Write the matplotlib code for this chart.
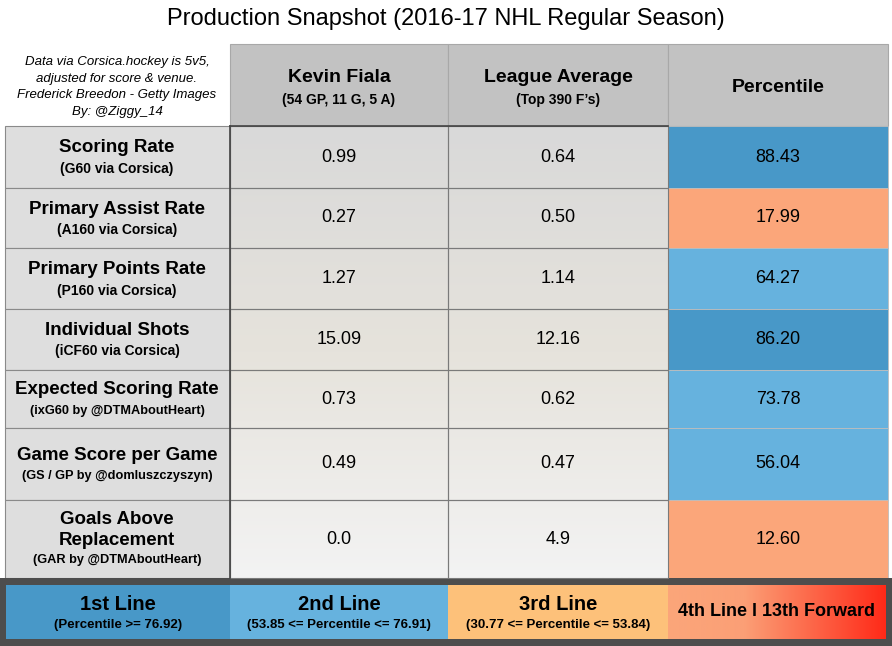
import numpy as np
import matplotlib.pyplot as plt
from matplotlib.colors import LinearSegmentedColormap
from matplotlib.patches import Rectangle

# ---- data ----
metrics = ['Scoring Rate', 'Primary Assist Rate', 'Primary Points Rate',
           'Individual Shots', 'Expected Scoring Rate', 'Game Score per Game',
           'Goals Above\nReplacement']
sources = ['(G60 via Corsica)', '(A160 via Corsica)', '(P160 via Corsica)',
           '(iCF60 via Corsica)', '(ixG60 by @DTMAboutHeart)',
           '(GS / GP by @domluszczyszyn)', '(GAR by @DTMAboutHeart)']
player_vals = ['0.99', '0.27', '1.27', '15.09', '0.73', '0.49', '0.0']
league_vals = ['0.64', '0.50', '1.14', '12.16', '0.62', '0.47', '4.9']
percentiles = [88.43, 17.99, 64.27, 86.20, 73.78, 56.04, 12.60]

headers = [('Kevin Fiala', '(54 GP, 11 G, 5 A)'),
           ('League Average', '(Top 390 F\u2019s)'),
           ('Percentile', '')]
tiers = [('1st Line', '(Percentile >= 76.92)'),
         ('2nd Line', '(53.85 <= Percentile <= 76.91)'),
         ('3rd Line', '(30.77 <= Percentile <= 53.84)'),
         ('4th Line l 13th Forward', '')]
tier_cuts = [76.92, 53.85, 30.77]

# ---- style / layout (pixel space) ----
FONT = ['Liberation Sans', 'DejaVu Sans']
tier_colors = ['#4898c8', '#66b2de', '#fdc17a', '#fba67a']
col_x = [5, 230, 448, 668, 888]
row_y = [126, 188, 248, 309, 370, 428, 500, 578]
head_top = 44

plt.rcParams['font.family'] = FONT
fig = plt.figure(figsize=(8.92, 6.46), dpi=100)
ax = fig.add_axes([0, 0, 1, 1])
ax.set_xlim(0, 892)
ax.set_ylim(646, 0)
ax.axis('off')

ax.text(446, 19, 'Production Snapshot (2016-17 NHL Regular Season)',
        fontsize=17, ha='center', va='center')

# note cell
ax.text(117, 87, 'Data via Corsica.hockey is 5v5,\nadjusted for score & venue.\n'
        'Frederick Breedon - Getty Images\nBy: @Ziggy_14',
        fontsize=9.5, style='italic', ha='center', va='center', linespacing=1.5)

# header cells
for j, (main, sub) in enumerate(headers):
    x0, x1 = col_x[j + 1], col_x[j + 2]
    ax.add_patch(Rectangle((x0, head_top), x1 - x0, row_y[0] - head_top,
                           facecolor='#c2c2c2', edgecolor='#a8a8a8', lw=0.8))
    xc = (x0 + x1) / 2
    if sub:
        ax.text(xc, 77, main, fontsize=14, fontweight='bold', ha='center', va='center')
        ax.text(xc, 100, sub, fontsize=10, fontweight='bold', ha='center', va='center')
    else:
        ax.text(xc, 87, main, fontsize=14, fontweight='bold', ha='center', va='center')

# photo area stand-in: soft vertical gradient
grad = np.linspace(0, 1, 256).reshape(-1, 1)
photo_cmap = LinearSegmentedColormap.from_list('photo', ['#d9d9d9', '#e6e3dc', '#f3f3f3'])
ax.imshow(grad, cmap=photo_cmap, aspect='auto', zorder=0,
          extent=(col_x[1], col_x[3], row_y[-1], row_y[0]))


def tier_of(p):
    for k, cut in enumerate(tier_cuts):
        if p >= cut:
            return k
    return len(tier_cuts)


for i in range(len(metrics)):
    y0, y1 = row_y[i], row_y[i + 1]
    yc = (y0 + y1) / 2
    ax.add_patch(Rectangle((col_x[0], y0), col_x[1] - col_x[0], y1 - y0,
                           facecolor='#dedede', edgecolor='#8a8a8a', lw=0.8, zorder=1))
    nlines = metrics[i].count('\n') + 1
    sub_fs = 10 if len(sources[i]) < 22 else 9.2
    if nlines == 1:
        ax.text(117, yc - 9, metrics[i], fontsize=13.5, fontweight='bold',
                ha='center', va='center', zorder=3)
        ax.text(117, yc + 12, sources[i], fontsize=sub_fs, fontweight='bold',
                ha='center', va='center', zorder=3)
    else:
        ax.text(117, yc - 9, metrics[i], fontsize=13.5, fontweight='bold',
                ha='center', va='center', linespacing=1.35, zorder=3)
        ax.text(117, yc + 21, sources[i], fontsize=sub_fs, fontweight='bold',
                ha='center', va='center', zorder=3)
    # value cells
    for j, val in enumerate([player_vals[i], league_vals[i]]):
        x0, x1 = col_x[j + 1], col_x[j + 2]
        ax.add_patch(Rectangle((x0, y0), x1 - x0, y1 - y0, facecolor='none',
                               edgecolor='#7a7a7a', lw=0.8, zorder=2))
        ax.text((x0 + x1) / 2, yc, val, fontsize=13, ha='center', va='center', zorder=3)
    # percentile cell
    x0, x1 = col_x[3], col_x[4]
    ax.add_patch(Rectangle((x0, y0), x1 - x0, y1 - y0,
                           facecolor=tier_colors[tier_of(percentiles[i])],
                           edgecolor='#bdbdbd', lw=0.6, zorder=1))
    ax.text((x0 + x1) / 2, yc, f'{percentiles[i]:.2f}', fontsize=13,
            ha='center', va='center', zorder=3)

# dark edges of the value block
ax.plot([col_x[1], col_x[3]], [row_y[0], row_y[0]], color='#444444', lw=1.2, zorder=4)
ax.plot([col_x[1], col_x[1]], [row_y[0], row_y[-1]], color='#444444', lw=1.2, zorder=4)

# legend strip
ax.add_patch(Rectangle((0, 578), 892, 68, facecolor='#4d4d4d', edgecolor='none', zorder=1))
leg_top, leg_bot = 585, 639
for k, (main, sub) in enumerate(tiers):
    x0 = 6 if k == 0 else col_x[k]
    x1 = 886 if k == len(tiers) - 1 else col_x[k + 1]
    if k < len(tiers) - 1:
        ax.add_patch(Rectangle((x0, leg_top), x1 - x0, leg_bot - leg_top,
                               facecolor=tier_colors[k], edgecolor='none', zorder=2))
    else:
        hgrad = np.linspace(0, 1, 256).reshape(1, -1)
        red_cmap = LinearSegmentedColormap.from_list(
            'red', [(0, '#fba67a'), (0.35, '#fb9f76'), (1, '#ff2a18')])
        ax.imshow(hgrad, cmap=red_cmap, aspect='auto', zorder=2,
                  extent=(x0, x1, leg_bot, leg_top))
    xc = (x0 + x1) / 2
    if sub:
        ax.text(xc, 604, main, fontsize=14.5, fontweight='bold',
                ha='center', va='center', zorder=3)
        ax.text(xc, 625, sub, fontsize=9.5, fontweight='bold',
                ha='center', va='center', zorder=3)
    else:
        ax.text(xc, 612, main, fontsize=13, fontweight='bold',
                ha='center', va='center', zorder=3)

fig.savefig('out.png', dpi=100, facecolor='white')
